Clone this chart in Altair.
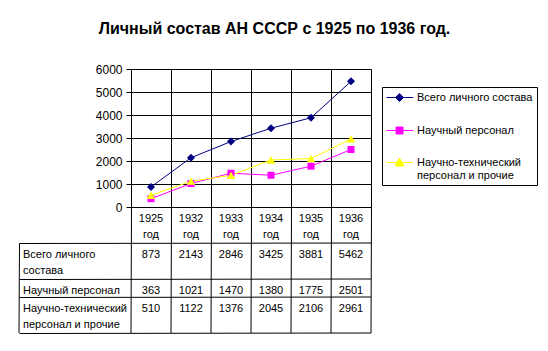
import altair as alt
import pandas as pd

# ---------------- data ----------------
years = ["1925", "1932", "1933", "1934", "1935", "1936"]
year_word = "год"
series_names = ["Всего личного состава", "Научный персонал", "Научно-технический\nперсонал и прочие"]
table_row_labels = ["Всего личного\nсостава", "Научный персонал", "Научно-технический\nперсонал и прочие"]
total_staff = [873, 2143, 2846, 3425, 3881, 5462]
scientific_staff = [363, 1021, 1470, 1380, 1775, 2501]
technical_staff = [510, 1122, 1376, 2045, 2106, 2961]
y_ticks = [0, 1000, 2000, 3000, 4000, 5000, 6000]
title_text = "Личный состав АН СССР с 1925 по 1936 год."

# ---------------- style / layout ----------------
colors = ["#000080", "#FF00FF", "#FFFF00"]
shapes = ["diamond", "square", "triangle-up"]
marker_sizes = [64, 49, 72]
legend_paths = [
    "M-1,0H3.45M1.17,-0.67L1.84,0L1.17,0.67L0.5,0Z",
    "M-1,0H3.45M0.59,-0.58H1.75V0.58H0.59Z",
    "M-1,0H3.45M1.17,-0.75L1.92,0.58L0.42,0.58Z",
]
FONT = "Liberation Sans"
PLOT_W, PLOT_H = 240, 138
PAD = {"left": 131, "top": 69, "right": 548 - 131 - 240, "bottom": 351 - 69 - 138}
LINE_PX = 18          # height of one text line in the data table
LABEL_COL = 2.8       # width of the row-label column, in year-column units
HEADER_LINES = 2

values = [total_staff, scientific_staff, technical_staff]

rows = []
for s_i, (name, vals) in enumerate(zip(series_names, values)):
    for y, v in zip(years, vals):
        rows.append({"year": y, "series": name, "value": v, "s": s_i})
df = pd.DataFrame(rows)

x_enc = alt.X(
    "year:N", sort=years, bandPosition=0.5,
    scale=alt.Scale(type="band", domain=years, paddingInner=0, paddingOuter=0),
    axis=alt.Axis(grid=True, gridColor="black", gridWidth=1, tickBand="extent",
                  labels=False, ticks=False, domain=False, title=None),
)
y_enc = alt.Y(
    "value:Q", scale=alt.Scale(domain=[0, 6000], nice=False),
    axis=alt.Axis(values=y_ticks, format="d", grid=True, gridColor="black", gridWidth=1,
                  tickColor="black", tickSize=5, tickWidth=1, labelPadding=4,
                  labelFont=FONT, labelFontSize=12, labelColor="black",
                  domain=False, title=None),
)

series_layers = []
for s_i, name in enumerate(series_names):
    sub = df[df["s"] == s_i]
    series_layers.append(
        alt.Chart(sub).mark_line(strokeWidth=1, color=colors[s_i]).encode(x=x_enc, y=y_enc)
    )
for s_i, name in enumerate(series_names):
    sub = df[df["s"] == s_i]
    series_layers.append(
        alt.Chart(sub).mark_point(
            filled=True, opacity=1, shape=shapes[s_i], size=marker_sizes[s_i],
            color=colors[s_i], strokeWidth=0,
        ).encode(x=x_enc, y=y_enc)
    )

leg = alt.Legend(
    title=None, orient="none", legendX=251, legendY=18, padding=4,
    strokeColor="black", fillColor="white",
    labelFont=FONT, labelFontSize=11, labelColor="black", labelLimit=300,
    labelOffset=18, rowPadding=20, symbolSize=144, symbolStrokeWidth=1,
    symbolOpacity=1, labelExpr="split(datum.label, '\\n')",
)
legend_layer = alt.Chart(df[df["year"] == years[0]]).mark_point(
    filled=True, strokeWidth=1, opacity=0
).encode(
    x=x_enc, y=y_enc,
    color=alt.Color("series:N", scale=alt.Scale(domain=series_names, range=colors), legend=leg),
    stroke=alt.Stroke("series:N", scale=alt.Scale(domain=series_names, range=colors), legend=leg),
    shape=alt.Shape("series:N", scale=alt.Scale(domain=series_names, range=legend_paths), legend=leg),
)

plot = alt.layer(*series_layers, legend_layer)

# ---------------- data table below the plot ----------------
row_lines = [lbl.count("\n") + 1 for lbl in table_row_labels]
row_tops = []
acc = HEADER_LINES
for n in row_lines:
    row_tops.append(acc)
    acc += n
total_lines = acc
n_cols = len(years)

cells = []
for i, y in enumerate(years):
    cells.append({"cx": i + 0.5, "cy": 0, "txt": f"{y}\n{year_word}"})
for r, vals in enumerate(values):
    for i, v in enumerate(vals):
        cells.append({"cx": i + 0.5, "cy": row_tops[r], "txt": str(v)})
cells_df = pd.DataFrame(cells)

labels_df = pd.DataFrame({"cx": [-LABEL_COL] * len(table_row_labels),
                          "cy": row_tops, "txt": table_row_labels})

edges = []
for i in range(n_cols + 1):
    edges.append({"x": i, "x2": i, "y": 0, "y2": total_lines})
edges.append({"x": -LABEL_COL, "x2": -LABEL_COL, "y": HEADER_LINES, "y2": total_lines})
for b in [HEADER_LINES] + [t + n for t, n in zip(row_tops, row_lines)]:
    edges.append({"x": -LABEL_COL, "x2": n_cols, "y": b, "y2": b})
edges_df = pd.DataFrame(edges)

tx = alt.Scale(domain=[0, n_cols], range=[0, PLOT_W], nice=False, zero=False)
ty = alt.Scale(domain=[0, total_lines], range=[PLOT_H, PLOT_H + total_lines * LINE_PX],
               nice=False, zero=False)

table_rules = alt.Chart(edges_df).mark_rule(color="black", strokeWidth=1, xOffset=0.5, yOffset=0.5).encode(
    x=alt.X("x:Q", scale=tx, axis=None), x2="x2:Q",
    y=alt.Y("y:Q", scale=ty, axis=None), y2="y2:Q",
)
table_values = alt.Chart(cells_df).mark_text(
    font=FONT, fontSize=11, color="black", align="center", baseline="top",
    lineBreak="\n", lineHeight=16, dy=6,
).encode(
    x=alt.X("cx:Q", scale=tx, axis=None),
    y=alt.Y("cy:Q", scale=ty, axis=None),
    text="txt:N",
)
table_labels = alt.Chart(labels_df).mark_text(
    font=FONT, fontSize=11, color="black", align="left", baseline="top",
    lineBreak="\n", lineHeight=16, dy=6, dx=4,
).encode(
    x=alt.X("cx:Q", scale=tx, axis=None),
    y=alt.Y("cy:Q", scale=ty, axis=None),
    text="txt:N",
)
table = alt.layer(table_rules, table_values, table_labels)

chart = alt.layer(plot, table).resolve_scale(x="independent", y="independent").properties(
    width=PLOT_W, height=PLOT_H, padding=PAD,
    autosize=alt.AutoSizeParams(type="none"),
    title=alt.TitleParams(text=title_text, font=FONT, fontSize=16, fontWeight="bold",
                          color="black", anchor="middle", dx=23.5, offset=26),
).configure_view(fill="#C0C0C0", stroke=None).configure(background="white")

chart.save("out.html", embed_options={"renderer": "svg", "actions": False})
